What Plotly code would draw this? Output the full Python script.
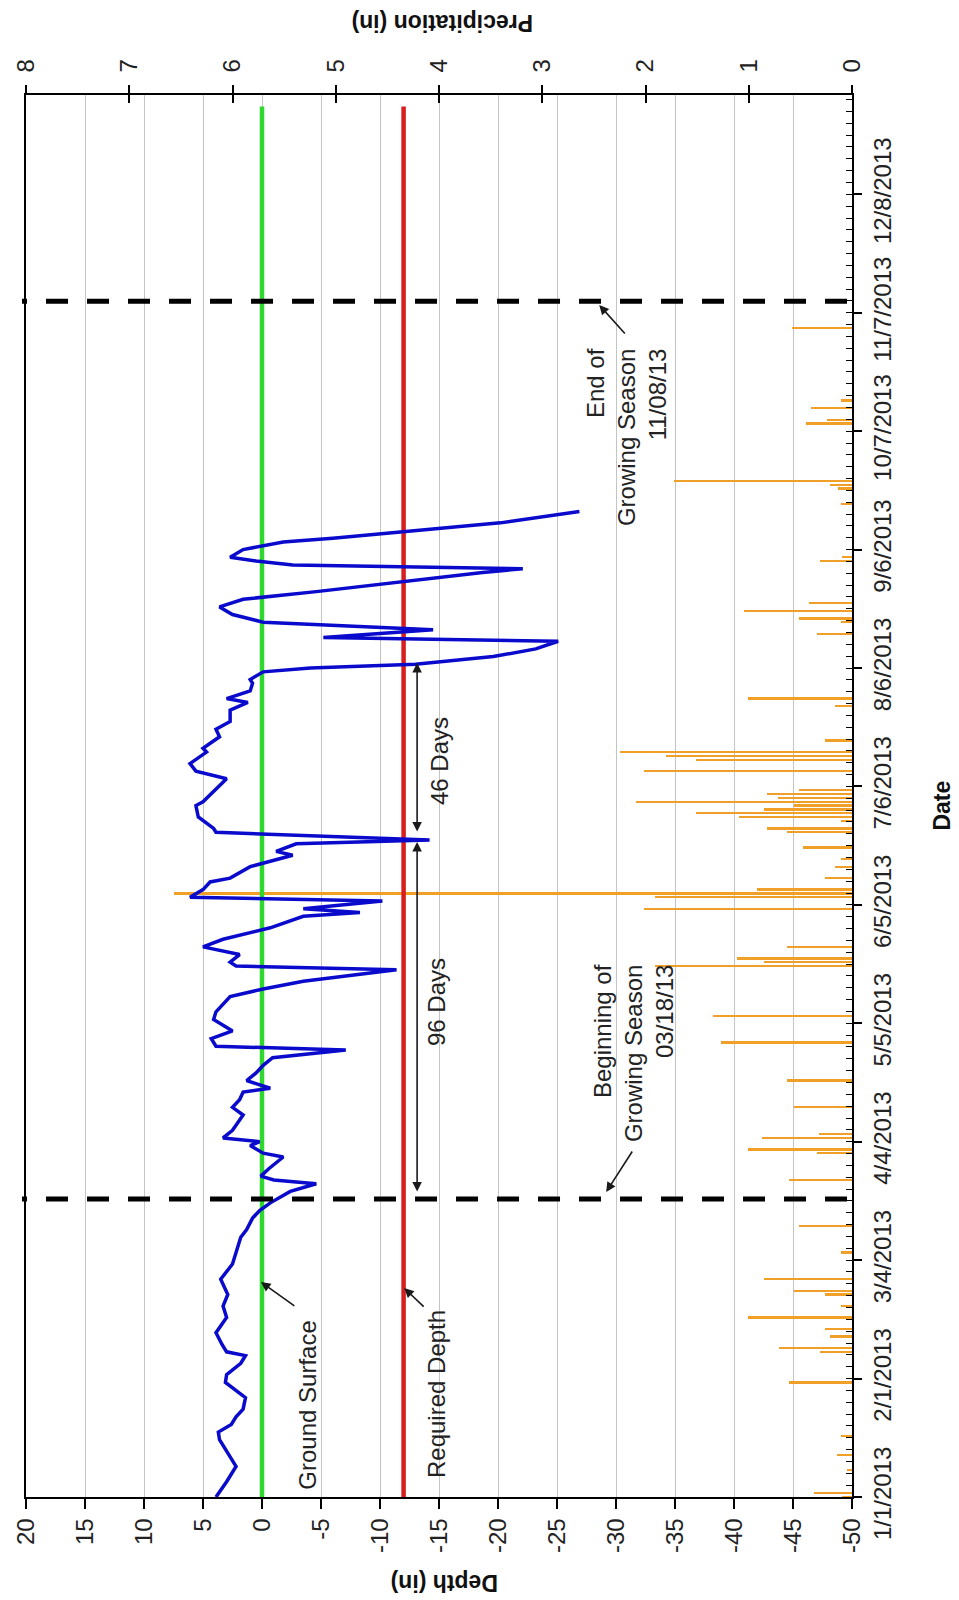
import plotly.graph_objects as go

# ---------------- data ----------------
depth_dates = [
    '2013-01-01', '2013-01-05', '2013-01-09', '2013-01-12', '2013-01-16', '2013-01-18',
    '2013-01-20', '2013-01-22', '2013-01-24', '2013-01-27', '2013-01-31', '2013-02-02',
    '2013-02-05', '2013-02-07', '2013-02-08', '2013-02-10', '2013-02-13', '2013-02-17',
    '2013-02-20', '2013-02-23', '2013-02-27', '2013-03-03', '2013-03-06', '2013-03-10',
    '2013-03-12', '2013-03-15', '2013-03-17', '2013-03-19', '2013-03-22', '2013-03-24',
    '2013-03-25', '2013-03-26', '2013-03-28', '2013-03-31', '2013-04-01', '2013-04-03',
    '2013-04-04', '2013-04-05', '2013-04-07', '2013-04-11', '2013-04-13', '2013-04-15',
    '2013-04-17', '2013-04-18', '2013-04-20', '2013-04-22', '2013-04-24', '2013-04-26',
    '2013-04-28', '2013-04-29', '2013-05-01', '2013-05-03', '2013-05-06', '2013-05-08',
    '2013-05-12', '2013-05-14', '2013-05-16', '2013-05-19', '2013-05-20', '2013-05-21',
    '2013-05-23', '2013-05-24', '2013-05-25', '2013-05-27', '2013-05-30', '2013-06-02',
    '2013-06-03', '2013-06-04', '2013-06-06', '2013-06-07', '2013-06-09', '2013-06-11',
    '2013-06-12', '2013-06-15', '2013-06-17', '2013-06-18', '2013-06-19', '2013-06-21',
    '2013-06-22', '2013-06-24', '2013-06-25', '2013-06-28', '2013-07-01', '2013-07-02',
    '2013-07-08', '2013-07-10', '2013-07-12', '2013-07-15', '2013-07-16', '2013-07-19',
    '2013-07-21', '2013-07-23', '2013-07-26', '2013-07-28', '2013-07-29', '2013-07-31',
    '2013-08-02', '2013-08-03', '2013-08-05', '2013-08-06', '2013-08-07', '2013-08-09',
    '2013-08-11', '2013-08-13', '2013-08-14', '2013-08-16', '2013-08-18', '2013-08-20',
    '2013-08-22', '2013-08-24', '2013-08-26', '2013-08-29', '2013-08-31', '2013-09-01',
    '2013-09-02', '2013-09-03', '2013-09-04', '2013-09-06', '2013-09-08', '2013-09-09',
    '2013-09-11', '2013-09-13', '2013-09-16',
]
depth_values = [
    3.9, 3.0, 2.2, 2.8, 3.6, 3.7,
    2.6, 2.2, 1.6, 1.4, 3.1, 3.0,
    1.8, 1.4, 3.0, 3.4, 3.9, 3.0,
    3.3, 2.9, 3.5, 2.5, 2.2, 1.8,
    1.3, 0.8, 0.2, -0.7, -2.4, -4.6,
    -1.0, 0.1, -0.6, -1.8, -0.1, 1.0,
    0.2, 3.3, 2.5, 1.6, 2.5, 1.9,
    1.6, -0.7, 1.3, 0.5, -0.1, -0.9,
    -7.1, 3.9, 4.3, 2.5, 4.1, 3.9,
    2.7, -0.1, -3.5, -11.4, 2.2, 2.7,
    1.9, 3.3, 5.0, 3.3, -0.7, -3.5,
    -8.3, -3.5, -10.2, 6.1, 5.0, 4.4,
    2.7, 1.0, -1.5, -2.6, -1.2, -2.9,
    -14.2, 3.9, 4.1, 5.4, 5.6, 5.0,
    3.0, 5.6, 6.1, 4.7, 5.0, 3.6,
    3.9, 2.7, 2.7, 1.2, 3.0, 1.0,
    0.8, 1.0, -0.1, -4.1, -13.0, -19.6,
    -23.2, -25.1, -5.2, -14.5, -0.1, 2.5,
    3.6, 1.6, -4.6, -13.0, -18.7, -22.1,
    -2.6, 0.5, 2.7, 1.6, -1.8, -6.0,
    -13.0, -20.2, -26.9,
]

precip_dates = [
    '2013-01-01', '2013-01-02', '2013-01-08', '2013-01-12', '2013-01-17', '2013-01-31',
    '2013-02-08', '2013-02-09', '2013-02-12', '2013-02-14', '2013-02-17', '2013-02-20',
    '2013-02-23', '2013-02-24', '2013-02-27', '2013-03-06', '2013-03-13', '2013-03-25',
    '2013-04-01', '2013-04-02', '2013-04-05', '2013-04-06', '2013-04-13', '2013-04-20',
    '2013-04-30', '2013-05-07', '2013-05-20', '2013-05-21', '2013-05-22', '2013-05-25',
    '2013-06-04', '2013-06-07', '2013-06-08', '2013-06-09', '2013-06-12', '2013-06-15',
    '2013-06-17', '2013-06-20', '2013-06-24', '2013-06-25', '2013-06-27', '2013-06-28',
    '2013-06-29', '2013-06-30', '2013-07-01', '2013-07-02', '2013-07-03', '2013-07-04',
    '2013-07-05', '2013-07-10', '2013-07-13', '2013-07-14', '2013-07-15', '2013-07-18',
    '2013-07-27', '2013-07-29', '2013-08-15', '2013-08-18', '2013-08-19', '2013-08-21',
    '2013-08-23', '2013-09-03', '2013-09-04', '2013-09-18', '2013-09-22', '2013-09-23',
    '2013-09-24', '2013-10-09', '2013-10-10', '2013-10-13', '2013-10-15', '2013-11-03',
]
precip_values = [
    0.10, 0.37, 0.05, 0.15, 0.11, 0.61,
    0.31, 0.71, 0.21, 0.26, 1.01, 0.11,
    0.26, 0.56, 0.85, 0.11, 0.51, 0.61,
    0.34, 1.01, 0.87, 0.32, 0.56, 0.63,
    1.27, 1.35, 1.91, 0.85, 1.11, 0.63,
    2.01, 1.91, 6.57, 0.92, 0.26, 0.16,
    0.11, 0.47, 0.63, 0.82, 0.11, 1.09,
    1.51, 0.85, 0.56, 2.09, 0.72, 0.82,
    0.51, 2.01, 1.51, 1.80, 2.25, 0.26,
    0.16, 1.01, 0.34, 0.11, 0.51, 1.05,
    0.42, 0.31, 0.10, 0.11, 0.14, 0.21,
    1.72, 0.45, 0.24, 0.40, 0.11, 0.58,
]

ref_line_dates = ['2013-01-01', '2013-12-31']
ground_surface = [0, 0]
required_depth = [-12, -12]

season_lines = ['2013-03-20', '2013-11-10']   # drawn positions of the dashed markers

date_range = ['2013-01-01', '2014-01-03']
depth_range = [20, -50]
precip_range = [8, 0]
depth_ticks = [20, 15, 10, 5, 0, -5, -10, -15, -20, -25, -30, -35, -40, -45, -50]
precip_ticks = [8, 7, 6, 5, 4, 3, 2, 1, 0]

# ---------------- layout helpers ----------------
W, H = 959, 1600
L, R, T, B = 22, 852, 95, 1497
FONT = 'Liberation Sans, Arial, sans-serif'
DAY = 86400000


def px(x):
    return (x - L) / (R - L)


def py(y):
    return (B - y) / (B - T)


fig = go.Figure()

# precipitation bars (main x axis, drawn underneath)
fig.add_trace(go.Bar(
    y=precip_dates, x=precip_values, orientation='h',
    xaxis='x', yaxis='y', width=0.6 * DAY,
    marker=dict(color='#F0A028', line=dict(width=0)),
    showlegend=False, hoverinfo='skip'))

# reference lines and water depth (overlay axis x2)
fig.add_trace(go.Scatter(x=ground_surface, y=ref_line_dates, mode='lines',
                         line=dict(color='#2ED82E', width=4.5),
                         xaxis='x2', yaxis='y', showlegend=False))
fig.add_trace(go.Scatter(x=required_depth, y=ref_line_dates, mode='lines',
                         line=dict(color='#D81E1E', width=4.5),
                         xaxis='x2', yaxis='y', showlegend=False))
fig.add_trace(go.Scatter(x=depth_values, y=depth_dates, mode='lines',
                         line=dict(color='#0A0ACC', width=3.5),
                         xaxis='x2', yaxis='y', showlegend=False))
fig.add_trace(go.Scatter(x=[None], y=[None], xaxis='x3', yaxis='y',
                         showlegend=False, hoverinfo='skip'))

tickfont = dict(family=FONT, size=24, color='#222222')

fig.update_layout(
    width=W, height=H,
    margin=dict(l=L, r=W - R, t=T, b=H - B),
    paper_bgcolor='white', plot_bgcolor='white',
    font=dict(family=FONT, color='#222222'),
    showlegend=False,
    bargap=0,
    xaxis=dict(  # precipitation (top)
        range=precip_range, side='top', anchor='y',
        tickmode='array', tickvals=precip_ticks,
        ticktext=[str(v) for v in precip_ticks], tickangle=-90,
        ticks='outside', ticklen=8, tickwidth=1.5, tickcolor='black',
        showline=True, linecolor='black', linewidth=1.5,
        showgrid=False, zeroline=False, tickfont=tickfont,
        ticklabelstandoff=8,
    ),
    xaxis3=dict(
        range=precip_range, side='top', anchor='y', overlaying='x',
        tickmode='array', tickvals=precip_ticks,
        ticks='inside', ticklen=8, tickwidth=1.5, tickcolor='black',
        showticklabels=False, showline=False, showgrid=False, zeroline=False,
    ),
    xaxis2=dict(  # depth (bottom)
        range=depth_range, side='bottom', anchor='y', overlaying='x',
        tickmode='array', tickvals=depth_ticks,
        ticktext=[str(v) for v in depth_ticks], tickangle=-90,
        ticks='outside', ticklen=10, tickwidth=1.5, tickcolor='black',
        showline=True, linecolor='black', linewidth=1.5,
        showgrid=True, gridcolor='#C4C4C4', gridwidth=1,
        zeroline=False, tickfont=tickfont, ticklabelstandoff=0,
    ),
    yaxis=dict(
        type='date', range=date_range, side='right', anchor='x',
        tickmode='linear', tick0='2013-01-01', dtick=31 * DAY,
        tickformat='%-m/%-d/%Y', tickangle=-90,
        ticks='outside', ticklen=8, tickwidth=1.5, tickcolor='black',
        minor=dict(ticks='inside', ticklen=6, tickwidth=1.2, tickcolor='black',
                   tick0='2013-01-01', dtick=3.1 * DAY, showgrid=False),
        showline=True, linecolor='black', linewidth=1.5, mirror=True,
        showgrid=False, zeroline=False, tickfont=tickfont,
        ticklabelstandoff=0,
    ),
)

# dashed growing-season markers
for d in season_lines:
    fig.add_shape(type='line', xref='paper', yref='y',
                  x0=px(847), x1=px(18), y0=d, y1=d,
                  line=dict(color='black', width=5, dash='22px,19px'))

ann_font = dict(family=FONT, size=24, color='#222222')
title_font = dict(family=FONT, size=23, color='#111111')


def text_ann(text, x, y, angle=-90, font=ann_font, align='center'):
    fig.add_annotation(text=text, xref='paper', yref='paper', x=px(x), y=py(y),
                       xanchor='center', yanchor='middle', showarrow=False,
                       textangle=angle, font=font, align=align)


def arrow(hx, hy, ax, ay, both=False):
    fig.add_annotation(text='', xref='paper', yref='paper', x=px(hx), y=py(hy),
                       ax=ax, ay=ay, showarrow=True, arrowhead=2, arrowsize=1.2,
                       arrowwidth=1.6, arrowcolor='#1a1a1a',
                       arrowside='end+start' if both else 'end',
                       startarrowhead=2, startarrowsize=1.2)


text_ann('Ground Surface', 304, 1405)
text_ann('Required Depth', 434, 1394)
text_ann('96 Days', 435, 1002)
text_ann('46 Days', 437, 761)
text_ann('Beginning of<br>Growing Season<br>03/18/13', 632, 1053, align='right')
text_ann('End of<br>Growing Season<br>11/08/13', 625, 437, align='right')
text_ann('<b>Depth (in)</b>', 442, 1583, angle=180, font=title_font)
text_ann('<b>Precipitation (in)</b>', 440, 23, angle=180, font=title_font)
text_ann('<b>Date</b>', 942, 806, angle=-90, font=title_font)

arrow(258, 1282, 35, 25)
arrow(402, 1288, 21, 20)
arrow(605, 1192, 27, -42)
arrow(598, 305, 27, 30)
arrow(415, 842, 0, 351, both=True)
arrow(415, 663, 0, 170, both=True)

fig.write_html('out.html')
